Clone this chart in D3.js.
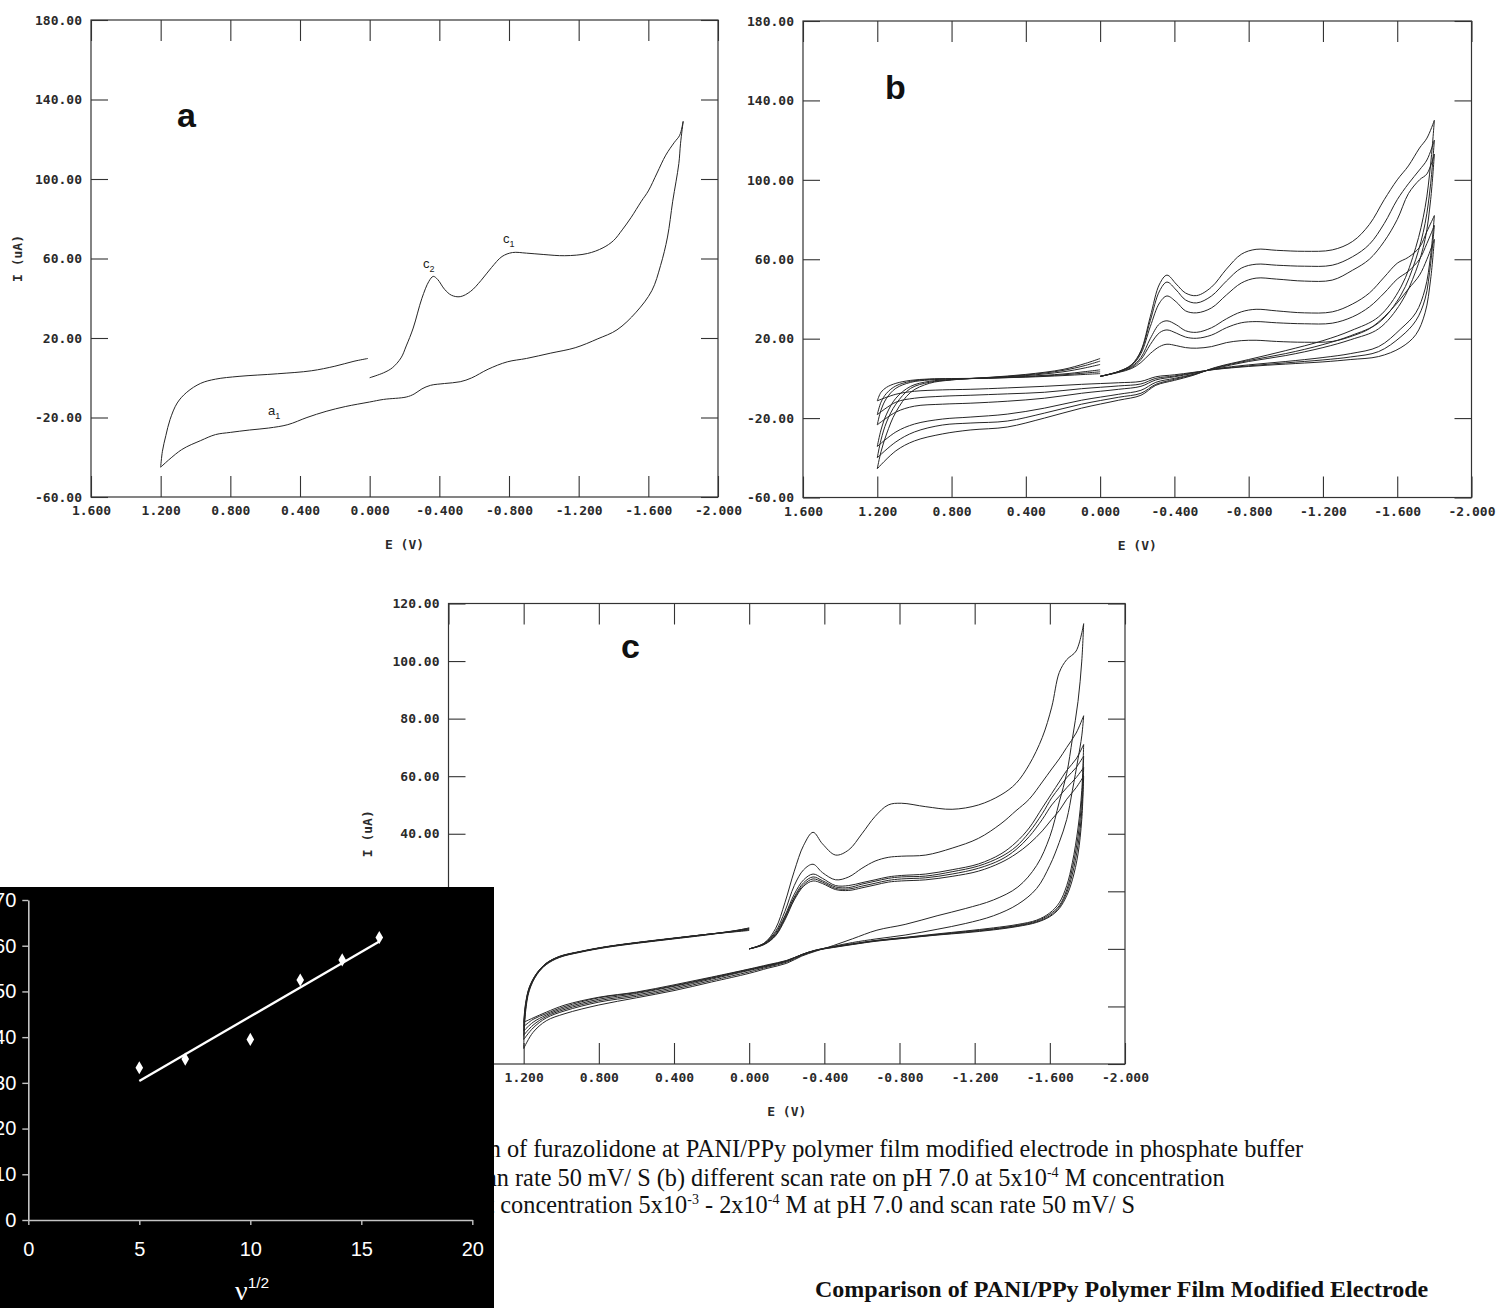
<!DOCTYPE html>
<html>
<head>
<meta charset="utf-8">
<script src="https://cdn.jsdelivr.net/npm/d3@7"></script>
<style>
  body { margin: 0; background: #fff; }
  svg { display: block; }
</style>
</head>
<body>
<svg id="fig" width="1497" height="1308"></svg>
<script>
// ---------- tick values ----------
const eTicks = [1.6, 1.2, 0.8, 0.4, 0, -0.4, -0.8, -1.2, -1.6, -2.0];
const iTicksAB = [-60, -20, 20, 60, 100, 140, 180];
const iTicksC = [-40, -20, 0, 20, 40, 60, 80, 100, 120];

// ---------- panel a : one CV, three sweep segments ----------
const aFwdE = [0, -0.08, -0.13, -0.18, -0.21, -0.25, -0.30, -0.34, -0.365, -0.39, -0.43, -0.47, -0.52, -0.58, -0.64, -0.70, -0.76, -0.82, -0.90, -1.00, -1.12, -1.25, -1.34, -1.40, -1.45, -1.50, -1.56, -1.60, -1.65, -1.70, -1.75, -1.78, -1.80];
const aFwdI = [0, 2.5, 5, 10, 16, 25, 40, 48.5, 51, 49.5, 44.5, 41.5, 40.8, 43.5, 49, 55.5, 61, 63, 62.7, 62, 61.4, 62.5, 65.4, 69, 74.4, 80.5, 88.8, 94, 103, 112, 118.5, 122, 129];
const aRevE = [-1.80, -1.785, -1.775, -1.74, -1.71, -1.67, -1.62, -1.53, -1.42, -1.31, -1.18, -1.04, -0.90, -0.79, -0.68, -0.585, -0.52, -0.43, -0.35, -0.30, -0.255, -0.21, -0.08, 0, 0.14, 0.25, 0.36, 0.47, 0.58, 0.69, 0.80, 0.885, 0.97, 1.08, 1.20];
const aRevI = [129, 118, 107.7, 88.8, 70.8, 56.4, 43.8, 33, 24.1, 19.6, 15.1, 12.4, 9.7, 8, 4.3, -0.1, -2, -2.9, -3.8, -5.6, -8.2, -9.7, -10.9, -12.2, -14.5, -16.9, -20, -23.6, -25.3, -26.3, -27.5, -28.6, -31.6, -36.2, -45];
const aRetE = [1.20, 1.19, 1.17, 1.146, 1.105, 1.05, 0.97, 0.885, 0.75, 0.53, 0.335, 0.20, 0.09, 0.01];
const aRetI = [-45, -37, -29, -21, -12.7, -7.3, -2.8, -0.7, 0.7, 2, 3.5, 5.8, 8.3, 9.7];

// ---------- panel b : six scan rates ----------
const bFwdE = [0, -0.1, -0.17, -0.22, -0.27, -0.32, -0.36, -0.41, -0.46, -0.52, -0.6, -0.68, -0.76, -0.84, -0.95, -1.1, -1.25, -1.36, -1.45, -1.53, -1.6, -1.66, -1.72, -1.76, -1.8];
const bFwdI = [
  [1, 3.5, 7, 14, 31, 47.5, 52, 47.5, 43, 41.7, 46, 55, 62.5, 65, 64.5, 64, 64.7, 69, 77.5, 90, 100, 107, 116, 121, 130],
  [1, 3.5, 6.8, 13.5, 29, 44, 48.5, 44.5, 39.5, 38, 41.5, 49, 55.5, 57.5, 57, 56.5, 57, 61.3, 67.5, 78, 90, 98, 105, 110, 120],
  [1, 3.4, 6.5, 12.5, 26, 38, 41.5, 38.5, 34, 33, 35.5, 42, 48, 50.5, 50, 49, 49.5, 54.5, 60, 69, 80, 93, 100, 103, 113],
  [1, 3.3, 6, 10.5, 20, 27.5, 29, 27, 24, 23.2, 25.5, 30, 33.5, 34.8, 34, 33, 33.5, 37.5, 43, 51, 58, 61, 66, 74, 82],
  [1, 3.2, 5.5, 9.5, 17, 23, 24.4, 22.8, 20.8, 20.2, 21.8, 25.5, 28, 28.6, 28, 27.5, 27.8, 31, 36, 43, 50, 54, 60, 68, 77],
  [1, 3, 5, 8, 12.5, 16, 17.2, 16.5, 15.5, 15.2, 16, 18, 19, 19.2, 18.6, 18.2, 18.6, 21.4, 25, 31, 38, 45, 52, 60, 70]
];
const bRevE = [-1.8, -1.78, -1.75, -1.7, -1.62, -1.5, -1.35, -1.2, -1.0, -0.8, -0.62, -0.5, -0.4, -0.3, -0.22, -0.1, 0.1, 0.3, 0.5, 0.7, 0.85, 1.0, 1.1, 1.2];
const bRevI = [
  [130, 108, 86, 66, 46, 31, 24, 19, 14, 9.5, 5.5, 1.5, -1, -3.5, -8.5, -11, -15, -20, -24.5, -26, -28, -31.5, -36.5, -45.5],
  [120, 98, 78, 60, 42, 28, 21.5, 17, 12.5, 9, 5.3, 1.8, -0.5, -3, -7.5, -9.5, -13, -17.5, -21.5, -22.5, -23.5, -27, -32, -40],
  [113, 90, 70, 54, 38, 25, 19.5, 15.5, 11.5, 8.5, 5, 2, 0, -2, -6, -8, -11, -15, -18, -19.5, -20.5, -23, -27, -34.3],
  [82, 62, 45, 33, 25, 16, 12.5, 10.5, 8.5, 6.8, 4.8, 2.5, 0.8, -0.8, -4, -5.5, -7.5, -10, -11.5, -12.5, -13, -14, -17, -23.4],
  [77, 58, 40, 29, 21, 13.5, 10.8, 9.3, 7.8, 6.3, 4.6, 2.8, 1.2, 0, -2.8, -3.8, -5.2, -7, -7.8, -8.5, -9, -10, -12, -18.3],
  [70, 50, 33, 22, 15.5, 11, 9.5, 8.3, 7.2, 6, 4.5, 3, 1.8, 0.8, -1.5, -2.2, -3, -4, -4.8, -5.5, -5.8, -6.5, -8, -11.3]
];
const bRetE = [1.2, 1.18, 1.15, 1.1, 1.02, 0.92, 0.8, 0.6, 0.4, 0.2, 0.08, 0.0];
const bRetI = [
  [-45.5, -37, -28, -17, -7, -2.5, -0.8, 0.5, 2, 4.5, 7.5, 10],
  [-40, -31, -22, -13, -5, -2, -0.7, 0.4, 1.7, 4, 6.5, 8.7],
  [-34.3, -26, -18, -10, -4, -1.5, -0.6, 0.3, 1.4, 3.3, 5.3, 7],
  [-23.4, -16, -10, -5, -2, -0.8, -0.3, 0.2, 1, 2.2, 3.4, 4.3],
  [-18.3, -12, -7.5, -3.8, -1.5, -0.5, -0.2, 0.1, 0.8, 1.8, 2.7, 3.3],
  [-11.3, -7, -4.5, -2.5, -1, -0.3, -0.1, 0.1, 0.6, 1.4, 2, 2.4]
];

// ---------- panel c : six concentrations ----------
const cFwdE = [0, -0.08, -0.14, -0.19, -0.24, -0.29, -0.34, -0.39, -0.46, -0.53, -0.6, -0.67, -0.74, -0.81, -0.94, -1.08, -1.22, -1.34, -1.42, -1.49, -1.56, -1.61, -1.65, -1.69, -1.74, -1.78];
const cFwdI = [
  [0, 2, 7, 16, 27, 36, 40.5, 36.5, 32.6, 34.4, 40, 46, 50, 50.6, 49.4, 48.5, 50, 53.5, 57.5, 64, 73.5, 84, 96, 100.5, 103.5, 113],
  [0, 2, 6, 13, 22, 27.5, 29.4, 26.5, 24, 25, 28, 30.5, 31.8, 32.2, 32.6, 35, 38.4, 43.5, 48, 52, 58, 62.5, 66, 70, 75, 81],
  [0, 1.8, 5.5, 11.5, 19, 24, 26, 24.5, 22, 22, 23, 24, 25, 25.5, 26, 27.5, 29.5, 33, 37, 42, 49, 54, 58, 62, 66, 71],
  [0, 1.7, 5, 11, 18, 23, 25, 23.7, 21.5, 21.3, 22.5, 23.5, 24.5, 25, 25.3, 26.8, 28.8, 32, 35.5, 40.5, 47, 52.5, 56, 59.5, 63, 67],
  [0, 1.6, 4.7, 10.5, 17.5, 22.3, 24.3, 23.2, 21, 20.8, 21.8, 22.8, 23.8, 24.3, 24.7, 26, 28, 31, 34.5, 39, 45, 50, 53, 56, 59.5, 63],
  [0, 1.5, 4.5, 10, 17, 21.8, 23.6, 22.7, 20.6, 20.3, 21.2, 22.2, 23.2, 23.6, 24, 25.2, 27, 30, 33, 36.5, 41, 45, 48, 52, 56, 60]
];
const cRevE = [-1.78, -1.77, -1.75, -1.72, -1.69, -1.65, -1.6, -1.53, -1.43, -1.3, -1.15, -1.0, -0.83, -0.68, -0.55, -0.45, -0.35, -0.28, -0.2, -0.1, 0.0, 0.2, 0.4, 0.6, 0.8, 0.98, 1.08, 1.15, 1.2];
const cRevI = [
  [113, 100, 86, 73, 61, 51, 39, 29, 21.5, 17, 14, 11.5, 8.5, 6.5, 3.5, 1.2, -0.9, -2.5, -5, -6.7, -8.5, -11.5, -14.5, -17, -19.5, -22.5, -25, -29, -34.6],
  [81, 74, 66, 55, 45, 37, 29, 21, 15.5, 11.5, 8.8, 6.8, 4.8, 3.5, 2.2, 0.9, -0.7, -2.3, -4.6, -6.3, -8, -11, -14, -16.5, -18.5, -21.5, -24, -27.5, -31.5],
  [71, 55, 42, 30, 22, 16, 12.5, 10, 8.5, 7.3, 6.2, 5.2, 4, 3, 1.8, 0.8, -0.5, -2, -4.3, -6, -7.5, -10.5, -13.5, -16, -18, -21, -23.5, -26.5, -30],
  [67, 52, 39, 28, 20.5, 15, 12, 9.7, 8.2, 7, 6, 5, 3.9, 2.9, 1.7, 0.7, -0.5, -2, -4.2, -5.8, -7.3, -10.2, -13, -15.5, -17.5, -20.5, -23, -25.5, -28.5],
  [63, 48, 36, 26, 19.5, 14.5, 11.5, 9.4, 8, 6.8, 5.8, 4.9, 3.8, 2.8, 1.6, 0.6, -0.6, -2, -4.1, -5.7, -7.1, -10, -12.8, -15.2, -17, -20, -22.5, -24.5, -27],
  [60, 45, 33, 24, 18.5, 14, 11.2, 9.2, 7.8, 6.6, 5.6, 4.8, 3.7, 2.7, 1.5, 0.5, -0.6, -2, -4, -5.5, -7, -9.8, -12.5, -15, -16.8, -19.5, -22, -24, -25.5]
];
const cRetE = [1.2, 1.19, 1.17, 1.13, 1.08, 1.01, 0.9, 0.76, 0.59, 0.41, 0.23, 0.08, 0.0];
const cRetI = [
  [-34.6, -22, -14.5, -9, -5.5, -3, -1.2, 0.5, 2, 3.4, 4.8, 6.2, 7.3],
  [-31.5, -21, -14, -8.8, -5.3, -2.9, -1.1, 0.6, 2.1, 3.5, 4.9, 6.3, 7.2],
  [-30, -20.5, -14, -8.7, -5.2, -2.8, -1.0, 0.7, 2.2, 3.6, 5, 6.2, 7],
  [-28.5, -20, -13.7, -8.6, -5.1, -2.7, -1, 0.7, 2.2, 3.6, 5, 6.1, 6.8],
  [-27, -19.5, -13.5, -8.5, -5, -2.7, -1, 0.7, 2.2, 3.6, 5, 6, 6.6],
  [-25.5, -19, -13.3, -8.4, -5, -2.6, -0.9, 0.8, 2.3, 3.7, 5, 5.9, 6.4]
];

// ---------- inset : peak current vs sqrt(scan rate) ----------
const sqrtScan = [5, 7.07, 10, 12.25, 14.14, 15.81];
const peakI = [33.3, 35.2, 39.5, 52.5, 56.9, 61.8];
const insetXTicks = [0, 5, 10, 15, 20];
const insetYTicks = [0, 10, 20, 30, 40, 50, 60, 70];

// ---------- drawing ----------
const svg = d3.select("#fig");
const loc = d3.formatLocale({decimal: ".", thousands: ",", grouping: [3], currency: ["", ""], minus: "-"});
const fmtE = loc.format(".3f");
const fmtI = loc.format(".2f");
const MONO = "'DejaVu Sans Mono', 'Liberation Mono', monospace";
const zip = (E, I) => E.map((e, i) => [e, I[i]]);

function styleAxis(g) {
  g.select(".domain").remove();
  g.selectAll(".tick line").attr("stroke", "#333").attr("stroke-width", 1.1);
  g.selectAll(".tick text").attr("font-family", MONO).attr("font-size", 13)
    .attr("font-weight", "bold").attr("fill", "#2a2a2a");
}

function cvPanel(box, yDom, yTicks, segments) {
  const x = d3.scaleLinear().domain([1.6, -2.0]).range([box.l, box.r]);
  const y = d3.scaleLinear().domain(yDom).range([box.b, box.t]);
  const g = svg.append("g");

  g.append("g").attr("transform", `translate(0,${box.b})`)
    .call(d3.axisBottom(x).tickValues(eTicks).tickFormat(fmtE).tickSize(-21).tickPadding(9))
    .call(styleAxis);
  g.append("g").attr("transform", `translate(0,${box.t})`)
    .call(d3.axisTop(x).tickValues(eTicks).tickFormat("").tickSize(-21))
    .call(styleAxis);
  g.append("g").attr("transform", `translate(${box.l},0)`)
    .call(d3.axisLeft(y).tickValues(yTicks).tickFormat(fmtI).tickSize(-17).tickPadding(9))
    .call(styleAxis);
  g.append("g").attr("transform", `translate(${box.r},0)`)
    .call(d3.axisRight(y).tickValues(yTicks).tickFormat("").tickSize(-17))
    .call(styleAxis);

  g.append("rect")
    .attr("x", box.l).attr("y", box.t)
    .attr("width", box.r - box.l).attr("height", box.b - box.t)
    .attr("fill", "none").attr("stroke", "#333").attr("stroke-width", 1.2);

  const line = d3.line()
    .x(d => x(d[0])).y(d => y(d[1]))
    .curve(d3.curveCatmullRom.alpha(0.5));

  g.selectAll("path.cv")
    .data(segments)
    .enter().append("path")
    .attr("class", "cv")
    .attr("d", line)
    .attr("fill", "none")
    .attr("stroke", "#262626")
    .attr("stroke-width", 1);

  g.append("text")
    .attr("x", (box.l + box.r) / 2).attr("y", box.b + 52)
    .attr("text-anchor", "middle")
    .attr("font-family", MONO).attr("font-size", 13).attr("font-weight", "bold").attr("fill", "#2a2a2a")
    .text("E (V)");

  return {x, y, g};
}

function panelLetter(g, txt, px, py) {
  g.append("text").attr("x", px).attr("y", py)
    .attr("font-family", "'Liberation Sans', Arial, sans-serif")
    .attr("font-weight", "bold").attr("font-size", 34).attr("fill", "#111")
    .text(txt);
}

function yTitle(g, px, py) {
  g.append("text")
    .attr("transform", `translate(${px},${py}) rotate(-90)`)
    .attr("text-anchor", "middle").attr("dy", "0.35em")
    .attr("font-family", MONO).attr("font-size", 13).attr("font-weight", "bold").attr("fill", "#2a2a2a")
    .text("I (uA)");
}

// panel a
const boxA = {l: 91, r: 718, t: 20, b: 497};
const pa = cvPanel(boxA, [-60, 180], iTicksAB,
  [zip(aFwdE, aFwdI), zip(aRevE, aRevI), zip(aRetE, aRetI)]);
panelLetter(pa.g, "a", 177, 127);
yTitle(pa.g, 17, (boxA.t + boxA.b) / 2);

function peakLabel(g, letter, sub, px, py) {
  const t = g.append("text").attr("x", px).attr("y", py)
    .attr("font-family", "'Liberation Sans', Arial, sans-serif")
    .attr("font-size", 13).attr("fill", "#222");
  t.append("tspan").text(letter);
  t.append("tspan").attr("dy", 4).attr("font-size", 9).text(sub);
}
peakLabel(pa.g, "c", "2", 423, 268);
peakLabel(pa.g, "c", "1", 503, 243);
peakLabel(pa.g, "a", "1", 268, 415);

// panel b
const boxB = {l: 803, r: 1471.5, t: 21, b: 497.5};
const segB = [];
bFwdI.forEach((_, k) => {
  segB.push(zip(bFwdE, bFwdI[k]), zip(bRevE, bRevI[k]), zip(bRetE, bRetI[k]));
});
const pb = cvPanel(boxB, [-60, 180], iTicksAB, segB);
panelLetter(pb.g, "b", 885, 99);

// panel c
const boxC = {l: 448.5, r: 1125, t: 603.5, b: 1064};
const segC = [];
cFwdI.forEach((_, k) => {
  segC.push(zip(cFwdE, cFwdI[k]), zip(cRevE, cRevI[k]), zip(cRetE, cRetI[k]));
});
const pc = cvPanel(boxC, [-40, 120], iTicksC, segC);
panelLetter(pc.g, "c", 621, 658);
yTitle(pc.g, 367, (boxC.t + boxC.b) / 2);

// caption (left part is hidden under the inset)
const cap = svg.append("g")
  .attr("font-family", "'Liberation Serif', 'Times New Roman', serif")
  .attr("font-size", 24.3).attr("fill", "#111");
cap.append("text").attr("x", 488.7).attr("y", 1157)
  .text("n of furazolidone at PANI/PPy polymer film modified electrode in phosphate buffer");
const l2 = cap.append("text").attr("x", 486).attr("y", 1186);
l2.append("tspan").text("an rate 50 mV/ S (b) different scan rate on pH 7.0 at 5x10");
l2.append("tspan").attr("dy", -9).attr("font-size", 14).text("-4");
l2.append("tspan").attr("dy", 9).text(" M concentration");
const l3 = cap.append("text").attr("x", 487.5).attr("y", 1213);
l3.append("tspan").text("t concentration 5x10");
l3.append("tspan").attr("dy", -9).attr("font-size", 14).text("-3");
l3.append("tspan").attr("dy", 9).text(" - 2x10");
l3.append("tspan").attr("dy", -9).attr("font-size", 14).text("-4");
l3.append("tspan").attr("dy", 9).text(" M at pH 7.0 and scan rate 50 mV/ S");
cap.append("text").attr("x", 815).attr("y", 1297).attr("font-weight", "bold").attr("font-size", 24)
  .text("Comparison of PANI/PPy Polymer Film Modified Electrode");

// inset scatter
const ig = svg.append("g");
ig.append("rect").attr("x", 0).attr("y", 887).attr("width", 494).attr("height", 421).attr("fill", "#000");
const ix = d3.scaleLinear().domain([0, 20]).range([28.3, 472.3]);
const iy = d3.scaleLinear().domain([0, 70]).range([1220, 900]);

function styleInset(g) {
  g.select(".domain").attr("stroke", "#c4c4c4").attr("stroke-width", 1.6);
  g.selectAll(".tick line").attr("stroke", "#c4c4c4").attr("stroke-width", 1.4);
  g.selectAll(".tick text")
    .attr("font-family", "'Liberation Sans', Arial, sans-serif")
    .attr("font-size", 20).attr("fill", "#fff");
}
ig.append("g").attr("transform", "translate(0,1220)")
  .call(d3.axisBottom(ix).tickValues(insetXTicks).tickSize(5).tickSizeOuter(0).tickPadding(17))
  .call(styleInset);
ig.append("g").attr("transform", "translate(28.3,0)")
  .call(d3.axisLeft(iy).tickValues(insetYTicks).tickSize(6).tickSizeOuter(0).tickPadding(6))
  .call(styleInset);

// least-squares trend line through the points
const mx = d3.mean(sqrtScan), my = d3.mean(peakI);
const slope = d3.sum(sqrtScan, (v, i) => (v - mx) * (peakI[i] - my)) / d3.sum(sqrtScan, v => (v - mx) ** 2);
const icpt = my - slope * mx;
const [xa, xb] = d3.extent(sqrtScan);
ig.append("line")
  .attr("x1", ix(xa)).attr("y1", iy(icpt + slope * xa))
  .attr("x2", ix(xb)).attr("y2", iy(icpt + slope * xb))
  .attr("stroke", "#fff").attr("stroke-width", 2.3);

ig.selectAll("path.pt")
  .data(sqrtScan)
  .enter().append("path")
  .attr("class", "pt")
  .attr("transform", (d, i) => `translate(${ix(d)},${iy(peakI[i])})`)
  .attr("d", d3.symbol(d3.symbolDiamond, 50))
  .attr("fill", "#fff");

const nu = ig.append("text").attr("x", 235).attr("y", 1300)
  .attr("font-family", "'Liberation Serif', 'Times New Roman', serif")
  .attr("font-size", 28).attr("fill", "#fff");
nu.append("tspan").text("ν");
nu.append("tspan").attr("dy", -12).attr("font-size", 15.5)
  .attr("font-family", "'Liberation Sans', Arial, sans-serif").text("1/2");
</script>
</body>
</html>
